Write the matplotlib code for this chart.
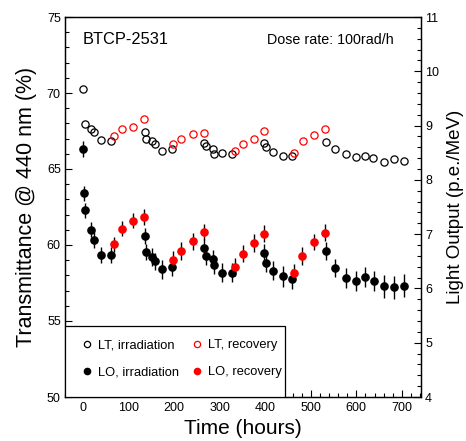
import matplotlib
matplotlib.use("Agg")
import matplotlib.pyplot as plt
from matplotlib.lines import Line2D
from matplotlib.patches import Rectangle
from matplotlib.ticker import MultipleLocator

plt.rcParams['font.family'] = ['Liberation Sans', 'DejaVu Sans']

# ---- data ----
lt_irr_t = [0, 4, 17, 24, 40, 61, 135, 138, 151, 157, 172, 194, 266, 269, 285, 288, 305, 326,
            398, 402, 416, 438, 458, 534, 554, 577, 600, 619, 637, 660, 682, 704]
lt_irr = [70.24, 67.96, 67.61, 67.41, 66.93, 66.84, 67.41, 66.99, 66.82, 66.64, 66.18, 66.34,
          66.69, 66.49, 66.30, 65.99, 66.03, 65.99, 66.73, 66.47, 66.12, 65.84, 65.84, 66.80,
          66.32, 65.99, 65.77, 65.84, 65.72, 65.48, 65.64, 65.54]

lt_rec_t = [68, 86, 109, 134, 198, 215, 241, 266, 333, 350, 376, 398, 463, 482, 506, 532]
lt_rec = [67.17, 67.65, 67.76, 68.31, 66.63, 66.95, 67.28, 67.39, 66.18, 66.63, 66.98, 67.50,
          66.07, 66.86, 67.26, 67.61]

lo_irr_t = [0, 2, 4, 17, 24, 40, 61, 135, 138, 151, 157, 172, 194, 266, 269, 285, 288, 305, 326,
            398, 402, 416, 438, 458, 534, 554, 577, 600, 620, 638, 660, 682, 704]
lo_irr = [8.57, 7.75, 7.44, 7.08, 6.89, 6.62, 6.62, 6.97, 6.67, 6.58, 6.50, 6.35, 6.39, 6.75,
          6.60, 6.54, 6.44, 6.29, 6.29, 6.65, 6.47, 6.33, 6.22, 6.17, 6.69, 6.38, 6.19, 6.14,
          6.21, 6.14, 6.04, 6.02, 6.05]
lo_irr_err = [0.14, 0.14, 0.14, 0.14, 0.15, 0.15, 0.15, 0.15, 0.15, 0.16, 0.16, 0.17, 0.17, 0.16,
              0.16, 0.17, 0.17, 0.18, 0.18, 0.16, 0.17, 0.17, 0.19, 0.18, 0.16, 0.17, 0.19, 0.19,
              0.19, 0.19, 0.21, 0.21, 0.21]

lo_rec_t = [68, 85, 109, 134, 198, 215, 241, 266, 333, 350, 376, 398, 463, 481, 506, 531]
lo_rec = [6.81, 7.10, 7.25, 7.31, 6.52, 6.69, 6.87, 7.04, 6.39, 6.64, 6.84, 7.01, 6.28, 6.60,
          6.85, 7.03]
lo_rec_err = [0.14, 0.14, 0.14, 0.15, 0.17, 0.16, 0.16, 0.15, 0.17, 0.16, 0.16, 0.15, 0.17, 0.16,
              0.15, 0.15]

legend_labels = ["LT, irradiation", "LT, recovery", "LO, irradiation", "LO, recovery"]
RED = '#ff0000'

fig = plt.figure(figsize=(4.66, 4.41), dpi=100)
ax = fig.add_axes([65/466, 44/441, 356/466, 380/441])
ax2 = ax.twinx()

ms = 5.2
ax.plot(lt_irr_t, lt_irr, 'o', mfc='none', mec='black', ms=ms, mew=0.9, zorder=3)
ax.plot(lt_rec_t, lt_rec, 'o', mfc='none', mec=RED, ms=ms, mew=0.9, zorder=3)

ax2.errorbar(lo_irr_t, lo_irr, yerr=lo_irr_err, fmt='o', color='black', mfc='black', mec='black',
             ms=ms, ecolor='black', elinewidth=1.0, capsize=0, zorder=3)
ax2.errorbar(lo_rec_t, lo_rec, yerr=lo_rec_err, fmt='o', color=RED, mfc=RED, mec=RED,
             ms=ms, ecolor='black', elinewidth=1.0, capsize=0, zorder=3)

ax.set_xlim(-40, 742)
ax.set_ylim(50, 75)
ax2.set_ylim(4, 11)

ax.xaxis.set_major_locator(MultipleLocator(100))
ax.xaxis.set_minor_locator(MultipleLocator(20))
ax.yaxis.set_major_locator(MultipleLocator(5))
ax.yaxis.set_minor_locator(MultipleLocator(1))
ax2.yaxis.set_major_locator(MultipleLocator(1))
ax2.yaxis.set_minor_locator(MultipleLocator(0.2))

for a in (ax, ax2):
    a.tick_params(which='both', direction='in', labelsize=9, width=0.8)
    a.tick_params(which='major', length=5)
    a.tick_params(which='minor', length=3)
    for s in a.spines.values():
        s.set_linewidth(0.9)
ax.tick_params(axis='x', which='both', top=False)
ax.tick_params(axis='y', which='both', right=False, pad=3)
ax2.tick_params(axis='y', which='both', left=False, right=True, pad=3)

ax.set_xlabel("Time (hours)", fontsize=15, labelpad=4)
ax.set_ylabel("Transmittance @ 440 nm (%)", fontsize=15.5, labelpad=7)
ax2.set_ylabel("Light Output (p.e./MeV)", fontsize=13.5, labelpad=6)

ax.text(0.05, 0.94, "BTCP-2531", transform=ax.transAxes, fontsize=11.8, ha='left', va='center')
ax.text(0.567, 0.94, "Dose rate: 100rad/h", transform=ax.transAxes, fontsize=10.3,
        ha='left', va='center')

# legend box
rect = Rectangle((0, 0), 0.618, 0.187, transform=ax2.transAxes, facecolor='white',
                 edgecolor='black', linewidth=0.9, zorder=10)
ax2.add_patch(rect)
handles = [
    Line2D([], [], marker='o', ls='none', mfc='none', mec='black', ms=4.5, mew=0.9),
    Line2D([], [], marker='o', ls='none', mfc='none', mec=RED, ms=4.5, mew=0.9),
    Line2D([], [], marker='o', ls='none', mfc='black', mec='black', ms=4.5),
    Line2D([], [], marker='o', ls='none', mfc=RED, mec=RED, ms=4.5),
]
order = [0, 2, 1, 3]
leg = ax2.legend([handles[i] for i in order], [legend_labels[i] for i in order],
                 ncol=2, loc='upper left', bbox_to_anchor=(0.045, 0.152),
                 frameon=False, fontsize=9.3, borderpad=0, borderaxespad=0,
                 handlelength=1.0, handletextpad=0.35, columnspacing=0.85,
                 labelspacing=1.15)
leg.set_zorder(11)

fig.savefig("out.png", dpi=100)
